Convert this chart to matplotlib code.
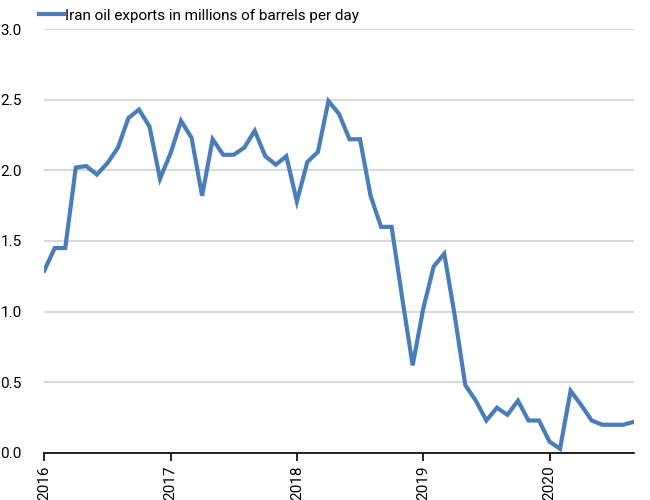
import numpy as np
import matplotlib
matplotlib.use("Agg")
import matplotlib.pyplot as plt

plt.rcParams['font.family'] = ['Roboto', 'DejaVu Sans']

# monthly values, Jan 2016 .. Sep 2020
exports = [1.29, 1.45, 1.45, 2.02, 2.03, 1.97, 2.05, 2.16, 2.37, 2.43, 2.31, 1.94,
           2.12, 2.35, 2.23, 1.82, 2.22, 2.11, 2.11, 2.16, 2.28, 2.10, 2.04, 2.10,
           1.78, 2.06, 2.13, 2.49, 2.40, 2.22, 2.22, 1.82, 1.60, 1.60, 1.10, 0.62,
           1.02, 1.32, 1.41, 0.97, 0.48, 0.37, 0.23, 0.32, 0.27, 0.37, 0.23, 0.23,
           0.08, 0.03, 0.44, 0.34, 0.23, 0.20, 0.20, 0.20, 0.22]
years = ['2016', '2017', '2018', '2019', '2020']
yticks = [0.0, 0.5, 1.0, 1.5, 2.0, 2.5, 3.0]

months = np.arange(len(exports))

fig = plt.figure(figsize=(6.5, 5), dpi=100)
ax = fig.add_axes([0.068, 0.094, 0.907, 0.848])

ax.plot(months, exports, color='#4a7ebb', lw=3, solid_joinstyle='miter',
        label='Iran oil exports in millions of barrels per day')

ax.set_xlim(0, len(exports) - 1)
ax.set_ylim(0, 3.0)
ax.set_yticks(yticks)
ax.set_yticklabels(['%.1f' % v for v in yticks], fontsize=11)
ax.set_xticks(np.arange(len(years)) * 12)
ax.set_xticklabels(years, rotation=90, fontsize=11)

ax.grid(axis='y', color='#d0d3d8', lw=1.2)
ax.set_axisbelow(True)
for s in ['left', 'right', 'top']:
    ax.spines[s].set_visible(False)
ax.spines['bottom'].set_color('black')
ax.spines['bottom'].set_linewidth(1.2)
ax.tick_params(axis='y', length=0, pad=16)
ax.tick_params(axis='x', length=6, width=1.2, direction='out', pad=3)

ax.legend(loc='lower left', bbox_to_anchor=(-0.008, 1.015), frameon=False,
          fontsize=11, handlelength=1.6, handletextpad=0.1, borderaxespad=0,
          borderpad=0)

fig.savefig('out.png', dpi=100)
